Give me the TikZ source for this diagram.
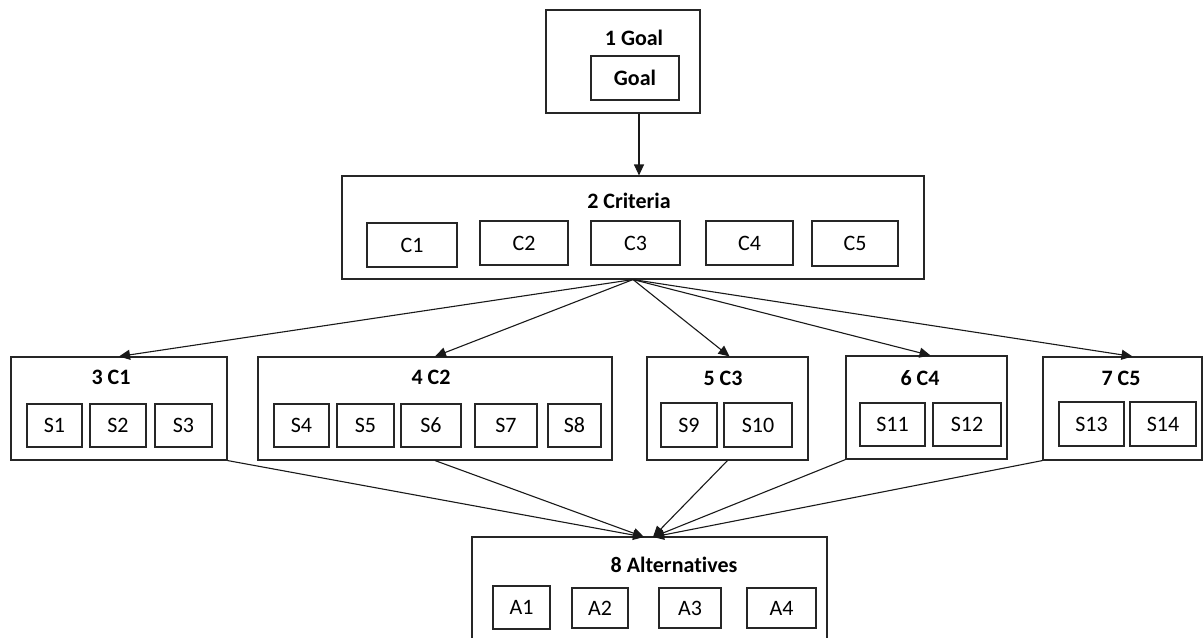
\documentclass[tikz,border=0pt]{standalone}
\usepackage{fontspec}
\setmainfont{Carlito}[Ligatures=NoCommon]
\usetikzlibrary{arrows.meta,calc}
\newcommand\mkbox[6]{\node[box, minimum width={#4-#2}, minimum height={#5-#3}] (#1) at ({(#2+#4)/2},{(#3+#5)/2}) {#6};}
\begin{document}
\begin{tikzpicture}[x=1pt,y=-1pt,
  box/.style={draw=black!85, line width=1.1pt, inner sep=0pt, font=\fontsize{22}{26}\selectfont},
  title/.style={inner sep=0pt, font=\fontsize{22}{26}\selectfont\bfseries},
  arr/.style={draw=black!90, line width=1.1pt, -{Triangle[length=11pt,width=10pt]}},
  ln/.style={draw=black!90, line width=1.1pt}]
\useasboundingbox (0,0) rectangle (1204,637);
\clip (0,0) rectangle (1204,637);
% level 1
\mkbox{goal}{546}{10}{700}{113}{}
\node[title] (t1) at (634,38) {1 Goal};
\mkbox{goalin}{591}{56}{679}{100}{\bfseries Goal}
% level 2
\mkbox{crit}{342}{176}{924}{279}{}
\node[title] (t2) at (629,201) {2 Criteria};
\mkbox{C1}{367}{223}{457}{267}{C1}
\mkbox{C2}{480}{221}{568}{265}{C2}
\mkbox{C3}{591}{221}{680}{265}{C3}
\mkbox{C4}{706}{221}{793}{265}{C4}
\mkbox{C5}{812}{221}{898}{266}{C5}
% level 3
\mkbox{c1box}{11}{357}{227}{460}{}
\node[title] (t3) at (111,377) {3 C1};
\mkbox{S1}{27}{404}{82}{447}{S1}
\mkbox{S2}{90}{404}{146}{447}{S2}
\mkbox{S3}{155}{404}{212}{447}{S3}
\mkbox{c2box}{258}{357}{612}{460}{}
\node[title] (t4) at (431,377) {4 C2};
\mkbox{S4}{274}{404}{329}{447}{S4}
\mkbox{S5}{337}{404}{394}{447}{S5}
\mkbox{S6}{401}{404}{461}{447}{S6}
\mkbox{S7}{475}{404}{537}{447}{S7}
\mkbox{S8}{548}{404}{601}{447}{S8}
\mkbox{c3box}{647}{357}{808}{460}{}
\node[title] (t5) at (723,378) {5 C3};
\mkbox{S9}{661}{403}{717}{447}{S9}
\mkbox{S10}{724}{403}{792}{447}{S10}
\mkbox{c4box}{846}{356}{1007}{459}{}
\node[title] (t6) at (920,378) {6 C4};
\mkbox{S11}{860}{403}{925}{446}{S11}
\mkbox{S12}{933}{403}{1001}{446}{S12}
\mkbox{c5box}{1043}{357}{1202}{460}{}
\node[title] (t7) at (1121,378) {7 C5};
\mkbox{S13}{1059}{402}{1124}{446}{S13}
\mkbox{S14}{1130}{402}{1196}{446}{S14}
% level 4
\mkbox{alt}{472}{537}{827}{662}{}
\node[title] (t8) at (674,565) {8 Alternatives};
\mkbox{A1}{493}{586}{550}{629}{A1}
\mkbox{A2}{572}{588}{628}{628}{A2}
\mkbox{A3}{659}{588}{721}{628}{A3}
\mkbox{A4}{747}{588}{816}{628}{A4}
% connectors
\coordinate (altL) at (644,537);
\coordinate (altR) at (653,537);
\draw[arr] ($(goal.south)+(16,0)$) -- ($(crit.north)+(6,0)$);
\draw[arr] (crit.south) -- (c1box.north);
\draw[arr] (crit.south) -- (c2box.north);
\draw[arr] (crit.south) -- ($(c3box.north)+(2,0)$);
\draw[arr] (crit.south) -- ($(c4box.north)+(4,0)$);
\draw[arr] (crit.south) -- ($(c5box.north)+(10,0)$);
\draw[arr] (c1box.south east) -- (altL);
\draw[arr] (c2box.south) -- (altL);
\draw[arr] (c3box.south) -- (altR);
\draw[arr] (c4box.south west) -- (altR);
\draw[arr] (c5box.south west) -- (altR);
\end{tikzpicture}
\end{document}
